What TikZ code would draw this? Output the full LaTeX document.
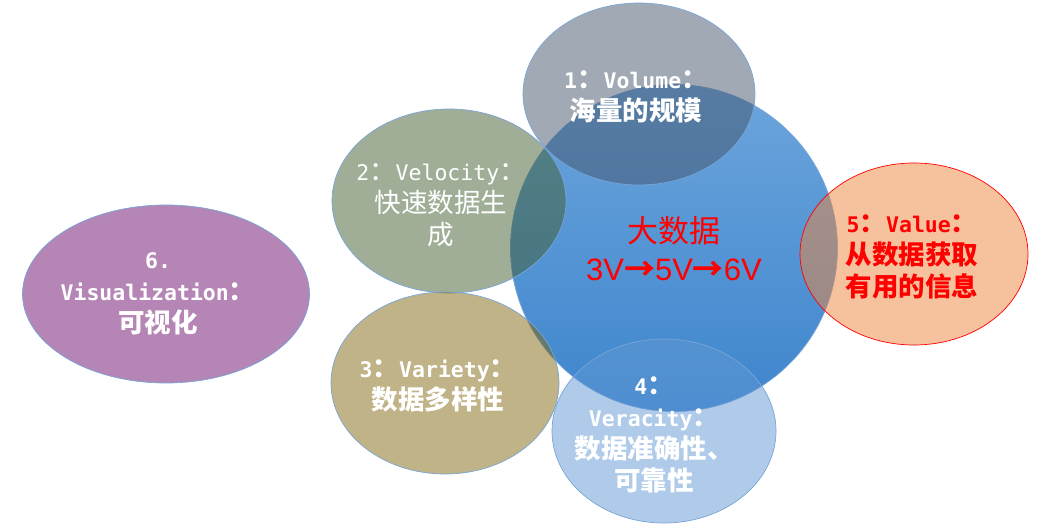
\documentclass[tikz,border=0pt]{standalone}
\usepackage{fontspec}
\usetikzlibrary{shapes.geometric}
\setmainfont{Noto Sans CJK SC}
\newfontfamily\cjkfont{Noto Sans CJK SC}
\newfontfamily\monofont{DejaVu Sans Mono}
\newfontfamily\arialfont{Liberation Sans}
\newcommand\lt[1]{{\monofont\fontsize{21.5}{32}\selectfont #1}}
\definecolor{edgeblue}{RGB}{120,165,215}
\definecolor{bluetop}{RGB}{108,165,220}
\definecolor{bluebot}{RGB}{62,133,205}
\definecolor{volc}{RGB}{68,84,106}
\definecolor{velc}{RGB}{65,93,49}
\definecolor{varc}{RGB}{129,103,15}
\definecolor{verc}{RGB}{95,151,211}
\definecolor{valc}{RGB}{237,133,61}
\definecolor{visc}{RGB}{181,133,181}
\tikzset{
  bubble/.style={ellipse, draw=edgeblue, line width=0.7pt, inner sep=0pt, fill opacity=0.5},
  lbl/.style={align=center, text=white, inner sep=0pt, font=\cjkfont\fontsize{26.5}{32}\selectfont\bfseries},
}
\begin{document}
\begin{tikzpicture}[x=1pt,y=-1pt]
\useasboundingbox (0,0) rectangle (1054,529);
\node[circle, minimum size=327pt, inner sep=0pt, top color=bluetop, bottom color=bluebot, draw=edgeblue, line width=0.7pt] (core) at (674,248) {};
\node[bubble, fill=volc, minimum width=232pt, minimum height=182pt] (volume) at (639,94) {};
\node[bubble, fill=velc, minimum width=234pt, minimum height=184pt] (velocity) at (449,201) {};
\node[bubble, fill=varc, minimum width=228pt, minimum height=182pt] (variety) at (445,383) {};
\node[bubble, fill=verc, minimum width=224pt, minimum height=184pt] (veracity) at (664,431) {};
\node[bubble, fill=valc, draw=red, minimum width=228pt, minimum height=182pt] (value) at (914,254) {};
\node[bubble, fill=visc, fill opacity=1, minimum width=287pt, minimum height=178pt] (visual) at (166,294) {};

\node[lbl] (volumet) at (636,97) {\lt{1}：\lt{Volume}：\\海量的规模};
\node[lbl, font=\cjkfont\fontsize{26.5}{32}\selectfont\mdseries] (velocityt) at (441,205) {\lt{2}：\lt{Velocity}：\\快速数据生\\成};
\node[lbl] (varietyt) at (438,386) {\lt{3}：\lt{Variety}：\\数据多样性};
\node[lbl] (veracityt) at (654,435) {\lt{4}：\\\lt{Veracity}：\\数据准确性、\\可靠性};
\node[lbl, text=red] (valuet) at (912,257) {\lt{5}：\lt{Value}：\\从数据获取\\有用的信息};
\node[lbl] (visualt) at (158,294) {\lt{6.}\\\lt{Visualization}：\\可视化};
\node[align=center, text=red, inner sep=0pt, font=\cjkfont\fontsize{31}{38}\selectfont] (coret) at (674,249) {大数据\\{\arialfont 3V}{\bfseries →}{\arialfont 5V}{\bfseries →}{\arialfont 6V}};
\end{tikzpicture}
\end{document}
